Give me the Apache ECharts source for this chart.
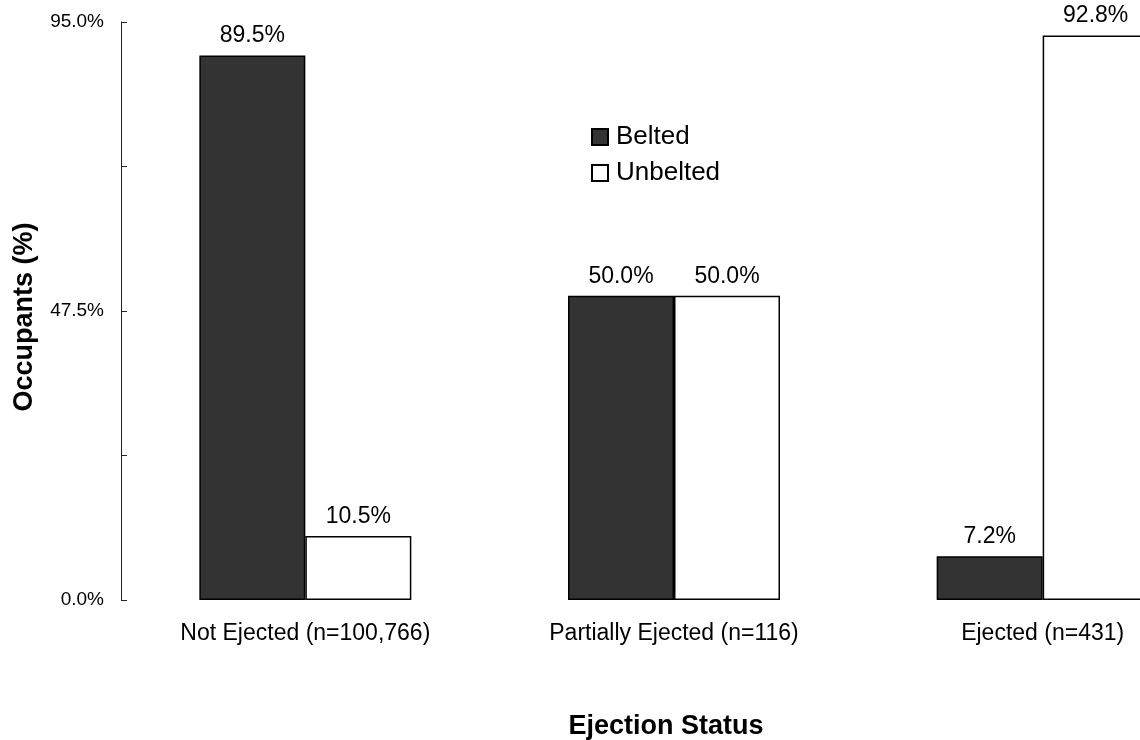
<!DOCTYPE html>
<html>
<head>
<meta charset="utf-8">
<script src="https://cdn.jsdelivr.net/npm/echarts@6/dist/echarts.min.js"></script>
<style>
  html, body { margin: 0; padding: 0; background: #fff; }
  #chart { width: 1140px; height: 740px; }
</style>
</head>
<body>
<div id="chart"></div>
<script>
// Share of occupants by belt use within each ejection group
const categories = ['Not Ejected (n=100,766)', 'Partially Ejected (n=116)', 'Ejected (n=431)'];
const belted = [89.5, 50.0, 7.2];
const unbelted = [10.5, 50.0, 92.8];
const yTicks = [0, 23.75, 47.5, 71.25, 95];
const labeledTicks = [0, 47.5, 95];

const FONT = '"Liberation Sans", Arial, sans-serif';

const chart = echarts.init(document.getElementById('chart'), null, { renderer: 'canvas' });

const barLabel = {
  show: true,
  position: 'top',
  distance: 8,
  color: '#000',
  fontFamily: FONT,
  fontSize: 23,
  formatter: p => p.value.toFixed(1) + '%'
};

chart.setOption({
  animation: false,
  backgroundColor: '#fff',
  textStyle: { fontFamily: FONT },
  legend: {
    orient: 'vertical',
    left: 591,
    top: 124,
    padding: 0,
    itemWidth: 16,
    itemHeight: 16,
    itemGap: 10,
    icon: 'rect',
    textStyle: { fontFamily: FONT, fontSize: 26, color: '#000', padding: [0, 0, 0, 3] },
    data: ['Belted', 'Unbelted']
  },
  grid: {
    left: 121,
    top: 22,
    width: 1106,
    height: 578,
    containLabel: false,
    outerBoundsMode: 'none'
  },
  xAxis: {
    type: 'category',
    data: categories,
    name: 'Ejection Status',
    nameLocation: 'middle',
    nameGap: 113,
    nameTextStyle: {
      fontFamily: FONT, fontSize: 27, fontWeight: 'bold', color: '#000',
      padding: [0, 16, 0, 0]
    },
    axisLine: { show: false },
    axisTick: { show: false },
    axisLabel: { margin: 22, fontFamily: FONT, fontSize: 23, color: '#000' },
    splitLine: { show: false }
  },
  yAxis: {
    type: 'value',
    min: yTicks[0],
    max: yTicks[yTicks.length - 1],
    interval: yTicks[1] - yTicks[0],
    name: 'Occupants (%)',
    nameLocation: 'middle',
    nameGap: 83,
    nameRotate: 90,
    nameTextStyle: {
      fontFamily: FONT, fontSize: 27, fontWeight: 'bold', color: '#000',
      padding: [0, 12, 0, 0]
    },
    axisLine: { show: true, lineStyle: { color: '#222', width: 1 } },
    axisTick: { show: true, inside: true, length: 6, lineStyle: { color: '#222', width: 1 } },
    axisLabel: {
      margin: 17,
      fontFamily: FONT,
      fontSize: 19,
      color: '#000',
      formatter: v => labeledTicks.some(t => Math.abs(t - v) < 1e-6) ? v.toFixed(1) + '%' : ''
    },
    splitLine: { show: false }
  },
  series: [
    {
      name: 'Belted',
      type: 'bar',
      data: belted,
      barWidth: 106,
      barGap: '0%',
      itemStyle: { color: '#333333', borderColor: '#000', borderWidth: 1.5 },
      label: barLabel
    },
    {
      name: 'Unbelted',
      type: 'bar',
      data: unbelted,
      barWidth: 106,
      barGap: '0%',
      itemStyle: { color: '#ffffff', borderColor: '#000', borderWidth: 1.5 },
      label: barLabel
    }
  ]
});
</script>
</body>
</html>
